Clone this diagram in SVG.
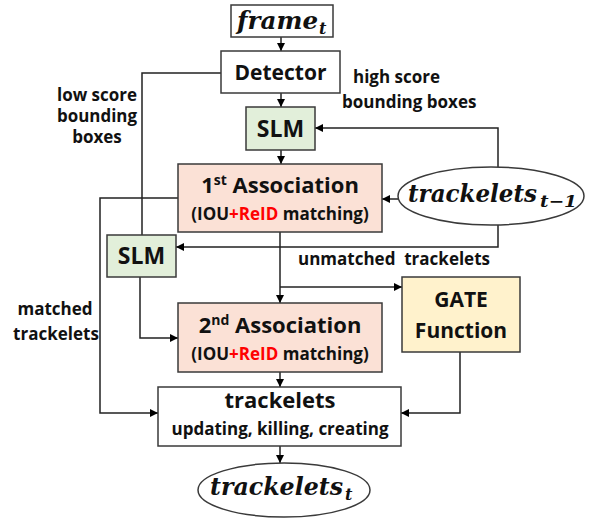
<svg xmlns="http://www.w3.org/2000/svg" width="595" height="523" viewBox="0 0 595 523">
  <defs>
    <marker id="arr" viewBox="0 0 10 10" refX="10" refY="5" markerWidth="8" markerHeight="8" markerUnits="userSpaceOnUse" orient="auto">
      <path d="M0,0 L10,5 L0,10 z" fill="#000"/>
    </marker>
  </defs>
  <style>
    .box { stroke: #3a3a3a; stroke-width: 1.5; }
    .plain { fill: #fff; }
    .slm { fill: #e2efda; }
    .assoc { fill: #fbe1d6; }
    .gate { fill: #fff2cc; }
    .t { font-family: "Open Sans", "Liberation Sans", sans-serif; font-weight: bold; fill: #111; text-anchor: middle; }
    .lab { font-family: "Open Sans", "Liberation Sans", sans-serif; font-weight: bold; fill: #111; font-size: 17px; }
    .math { font-family: "DejaVu Serif", "Liberation Serif", serif; font-weight: bold; font-style: italic; fill: #111; }
    .red { fill: #ff0000; }
    .wire { fill: none; stroke: #222; stroke-width: 1.5; }
  </style>

  <g id="connectors">
    <line class="wire" x1="281" y1="37" x2="281" y2="51" marker-end="url(#arr)"/>
    <line class="wire" x1="281" y1="93" x2="281" y2="107" marker-end="url(#arr)"/>
    <line class="wire" x1="281" y1="150" x2="281" y2="164" marker-end="url(#arr)"/>
    <polyline class="wire" points="221,73 142,73 142,235"/>
    <polyline class="wire" points="498,167 498,128 315,128" marker-end="url(#arr)"/>
    <line class="wire" x1="398" y1="199" x2="382" y2="199" marker-end="url(#arr)"/>
    <polyline class="wire" points="498,225 498,247 176,247" marker-end="url(#arr)"/>
    <polyline class="wire" points="178,198 100,198 100,413 158,413" marker-end="url(#arr)"/>
    <polyline class="wire" points="140,277 140,338 178,338" marker-end="url(#arr)"/>
    <line class="wire" x1="280" y1="232" x2="280" y2="303" marker-end="url(#arr)"/>
    <polyline class="wire" points="280,287 402,287" marker-end="url(#arr)"/>
    <line class="wire" x1="280" y1="372" x2="280" y2="387" marker-end="url(#arr)"/>
    <polyline class="wire" points="460,352 460,413 401,413" marker-end="url(#arr)"/>
    <line class="wire" x1="280" y1="446" x2="280" y2="463" marker-end="url(#arr)"/>
  </g>

  <g id="frame">
    <rect class="box plain" x="231" y="5" width="102" height="32"/>
    <text class="math" x="237" y="29" font-size="24"><tspan textLength="81" lengthAdjust="spacingAndGlyphs">frame</tspan><tspan x="319" y="34" font-size="16">t</tspan></text>
  </g>

  <g id="detector">
    <rect class="box plain" x="221" y="51" width="119" height="42"/>
    <text class="t" x="280.5" y="80" font-size="21">Detector</text>
  </g>

  <g id="slm-high">
    <rect class="box slm" x="246" y="107" width="69" height="43"/>
    <text class="t" x="280.5" y="137" font-size="23">SLM</text>
  </g>

  <g id="assoc1">
    <rect class="box assoc" x="178" y="164" width="204" height="68"/>
    <text class="t" x="280" y="193" font-size="22">1<tspan font-size="14" dy="-8">st</tspan><tspan dy="8"> Association</tspan></text>
    <text class="t" x="280" y="220" font-size="17">(IOU<tspan class="red">+ReID</tspan> matching)</text>
  </g>

  <g id="tracklets-prev">
    <ellipse class="box plain" cx="491" cy="196" rx="93" ry="29"/>
    <text class="math" x="408" y="202" font-size="24"><tspan textLength="129" lengthAdjust="spacingAndGlyphs">trackelets</tspan><tspan x="540" y="207" font-size="16" textLength="37" lengthAdjust="spacingAndGlyphs">t−1</tspan></text>
  </g>

  <g id="slm-low">
    <rect class="box slm" x="107" y="235" width="69" height="42"/>
    <text class="t" x="141.5" y="264" font-size="23">SLM</text>
  </g>

  <g id="gate">
    <rect class="box gate" x="402" y="277" width="118" height="75"/>
    <text class="t" x="461" y="307" font-size="21">GATE</text>
    <text class="t" x="461" y="338" font-size="21">Function</text>
  </g>

  <g id="assoc2">
    <rect class="box assoc" x="178" y="303" width="204" height="69"/>
    <text class="t" x="280" y="333" font-size="22">2<tspan font-size="14" dy="-8">nd</tspan><tspan dy="8"> Association</tspan></text>
    <text class="t" x="280" y="360" font-size="17">(IOU<tspan class="red">+ReID</tspan> matching)</text>
  </g>

  <g id="tracklets-update">
    <rect class="box plain" x="158" y="387" width="243" height="59"/>
    <text class="t" x="280" y="408" font-size="22">trackelets</text>
    <text class="t" x="280" y="435" font-size="17">updating, killing, creating</text>
  </g>

  <g id="tracklets-now">
    <ellipse class="box plain" cx="284" cy="490" rx="86" ry="27"/>
    <text class="math" x="210" y="495" font-size="24"><tspan textLength="133" lengthAdjust="spacingAndGlyphs">trackelets</tspan><tspan x="345" y="500" font-size="16">t</tspan></text>
  </g>

  <g id="labels">
    <text class="lab" x="353" y="83">high score</text>
    <text class="lab" x="342" y="108">bounding boxes</text>
    <text class="lab" x="97" y="101" text-anchor="middle" font-size="15.5" textLength="80" lengthAdjust="spacingAndGlyphs">low score</text>
    <text class="lab" x="97" y="122" text-anchor="middle" font-size="15.5" textLength="80" lengthAdjust="spacingAndGlyphs">bounding</text>
    <text class="lab" x="97" y="143" text-anchor="middle" font-size="15.5">boxes</text>
    <text class="lab" x="55" y="315" text-anchor="middle">matched</text>
    <text class="lab" x="56" y="340" text-anchor="middle">trackelets</text>
    <text class="lab" x="298" y="265" xml:space="preserve">unmatched  trackelets</text>
  </g>
</svg>
